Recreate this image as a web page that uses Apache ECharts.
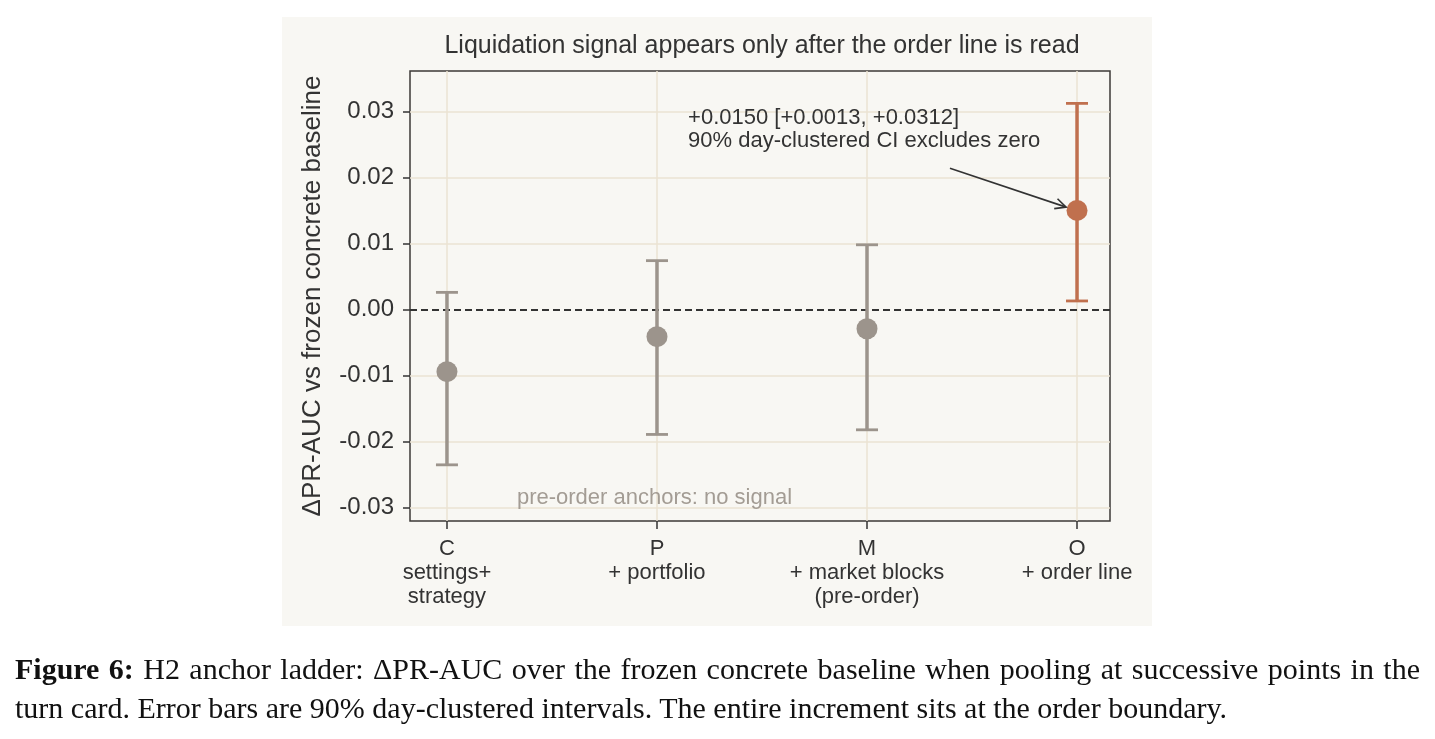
<!DOCTYPE html>
<html lang="en">
<head>
<meta charset="UTF-8">
<title>H2 anchor ladder</title>
<script src="https://cdn.jsdelivr.net/npm/echarts@6/dist/echarts.min.js"></script>
<style>
    body { margin: 0; background: #fff; }
    #chart { width: 1435px; height: 739px; }
    #caption {
        position: absolute; left: 15px; top: 649px; width: 1405px;
        font-family: "Liberation Serif", "DejaVu Serif", serif;
        font-size: 30px; line-height: 39px; color: #111;
    }
    #caption .l1 { text-align: justify; text-align-last: justify; white-space: nowrap; }
</style>
</head>
<body>
<div id="chart"></div>
<div id="caption">
    <div class="l1"><b>Figure 6:</b> H2 anchor ladder: ΔPR-AUC over the frozen concrete baseline when pooling at successive points in the</div>
    <div>turn card. Error bars are 90% day-clustered intervals. The entire increment sits at the order boundary.</div>
</div>

<script type="text/javascript">
    // anchors along the turn card
    var categories = ['C', 'P', 'M', 'O'];
    var subLabels = ['settings+\nstrategy', '+ portfolio', '+ market blocks\n(pre-order)', '+ order line'];
    // delta PR-AUC and 90% day-clustered CI
    var deltaMean = [-0.0094, -0.0041, -0.0029, 0.0150];
    var ciLow = [-0.0235, -0.0189, -0.0182, 0.0013];
    var ciHigh = [0.0026, 0.0074, 0.0098, 0.0312];
    var yTicks = [-0.03, -0.02, -0.01, 0.00, 0.01, 0.02, 0.03];
    var xTicks = [0, 1, 2, 3];
    // annotation text + arrow (data coords)
    var noteText = ['+0.0150 [+0.0013, +0.0312]\n90% day-clustered CI excludes zero', 'pre-order anchors: no signal'];
    var notePos = [[1.148, 0.0307], [0.333, -0.0285]];
    var arrow = [[2.395, 0.0214, 2.948, 0.0155]];

    var GRAY = '#9c948c', ORANGE = '#c0704e', INK = '#333333';
    var FONT = '"Liberation Sans", Arial, sans-serif';

    var myChart = echarts.init(document.getElementById('chart'));

    var option = {
        backgroundColor: '#ffffff',
        animation: false,
        textStyle: { fontFamily: FONT },
        graphic: [
            {
                type: 'rect', z: -1, silent: true,
                shape: { x: 282, y: 17, width: 870, height: 609 },
                style: { fill: '#f8f7f3' }
            },
            {
                type: 'text', x: 762, y: 46,
                style: {
                    text: 'Liquidation signal appears only after the order line is read',
                    font: '25px ' + FONT, fill: INK, align: 'center', verticalAlign: 'middle'
                }
            },
            {
                type: 'text', x: 313, y: 296, rotation: Math.PI / 2,
                style: {
                    text: 'ΔPR-AUC vs frozen concrete baseline',
                    font: '26px ' + FONT, fill: INK, align: 'center', verticalAlign: 'middle'
                }
            }
        ],
        grid: {
            left: 410, top: 71, width: 700, height: 450,
            show: true, borderColor: '#3c3a37', borderWidth: 1.5,
            backgroundColor: 'transparent'
        },
        xAxis: {
            type: 'value', min: -0.176, max: 3.157,
            axisLine: { show: false, onZero: false },
            splitLine: { show: false },
            axisTick: {
                show: true, customValues: xTicks, length: 8,
                lineStyle: { color: INK, width: 1.5 }
            },
            axisLabel: {
                customValues: xTicks, margin: 16,
                fontSize: 22, lineHeight: 24, color: INK,
                formatter: function (v) { return categories[v] + '\n' + subLabels[v]; }
            }
        },
        yAxis: {
            type: 'value', min: -0.032, max: 0.0361,
            axisLine: { show: false, onZero: false },
            splitLine: { show: false },
            axisTick: {
                show: true, customValues: yTicks, length: 7,
                lineStyle: { color: INK, width: 1.5 }
            },
            axisLabel: {
                customValues: yTicks, margin: 16, fontSize: 24, color: INK,
                formatter: function (v) { return v.toFixed(2); }
            }
        },
        series: [
            {
                // grid lines
                type: 'line', data: [], z: 1, silent: true,
                markLine: {
                    silent: true, symbol: 'none', label: { show: false }, z: 1,
                    lineStyle: { color: '#ebe3d3', width: 1.5, type: 'solid' },
                    data: yTicks.filter(function (v) { return v !== 0; }).map(function (v) { return { yAxis: v }; })
                        .concat(xTicks.map(function (v) { return { xAxis: v }; }))
                }
            },
            {
                // zero reference
                type: 'line', data: [], z: 2, silent: true,
                markLine: {
                    silent: true, symbol: 'none', label: { show: false }, z: 2,
                    lineStyle: { color: INK, width: 2, type: [7, 4] },
                    data: [{ yAxis: 0 }]
                }
            },
            {
                type: 'custom', z: 10,
                data: categories.map(function (c, i) { return [i, ciLow[i], ciHigh[i], deltaMean[i]]; }),
                renderItem: function (params, api) {
                    var x = api.value(0);
                    var lo = api.coord([x, api.value(1)]);
                    var hi = api.coord([x, api.value(2)]);
                    var mid = api.coord([x, api.value(3)]);
                    var color = params.dataIndex === 3 ? ORANGE : GRAY;
                    var cap = 11;
                    return {
                        type: 'group',
                        children: [
                            { type: 'line', shape: { x1: lo[0], y1: lo[1], x2: hi[0], y2: hi[1] }, style: { stroke: color, lineWidth: 3.5 } },
                            { type: 'line', shape: { x1: lo[0] - cap, y1: lo[1], x2: lo[0] + cap, y2: lo[1] }, style: { stroke: color, lineWidth: 2.8 } },
                            { type: 'line', shape: { x1: hi[0] - cap, y1: hi[1], x2: hi[0] + cap, y2: hi[1] }, style: { stroke: color, lineWidth: 2.8 } },
                            { type: 'circle', shape: { cx: mid[0], cy: mid[1], r: 10.5 }, style: { fill: color } }
                        ]
                    };
                }
            },
            {
                // annotation arrow
                type: 'custom', z: 11, silent: true,
                data: arrow,
                renderItem: function (params, api) {
                    var a = api.coord([api.value(0), api.value(1)]);
                    var b = api.coord([api.value(2), api.value(3)]);
                    var ang = Math.atan2(b[1] - a[1], b[0] - a[0]);
                    var h = 12, w = 0.45;
                    return {
                        type: 'group',
                        children: [
                            { type: 'line', shape: { x1: a[0], y1: a[1], x2: b[0], y2: b[1] }, style: { stroke: INK, lineWidth: 1.6 } },
                            { type: 'polyline', shape: { points: [
                                [b[0] - h * Math.cos(ang - w), b[1] - h * Math.sin(ang - w)],
                                [b[0], b[1]],
                                [b[0] - h * Math.cos(ang + w), b[1] - h * Math.sin(ang + w)]
                            ] }, style: { stroke: INK, lineWidth: 1.6, fill: null } }
                        ]
                    };
                }
            },
            {
                // annotation text
                type: 'custom', z: 11, silent: true,
                data: notePos,
                renderItem: function (params, api) {
                    var p = api.coord([api.value(0), api.value(1)]);
                    var first = params.dataIndex === 0;
                    return {
                        type: 'text', x: p[0], y: p[1],
                        style: {
                            text: noteText[params.dataIndex],
                            font: '22px ' + FONT, lineHeight: 23,
                            fill: first ? INK : '#a39c94',
                            align: 'left', verticalAlign: first ? 'top' : 'middle'
                        }
                    };
                }
            }
        ]
    };

    myChart.setOption(option);
</script>
</body>
</html>
